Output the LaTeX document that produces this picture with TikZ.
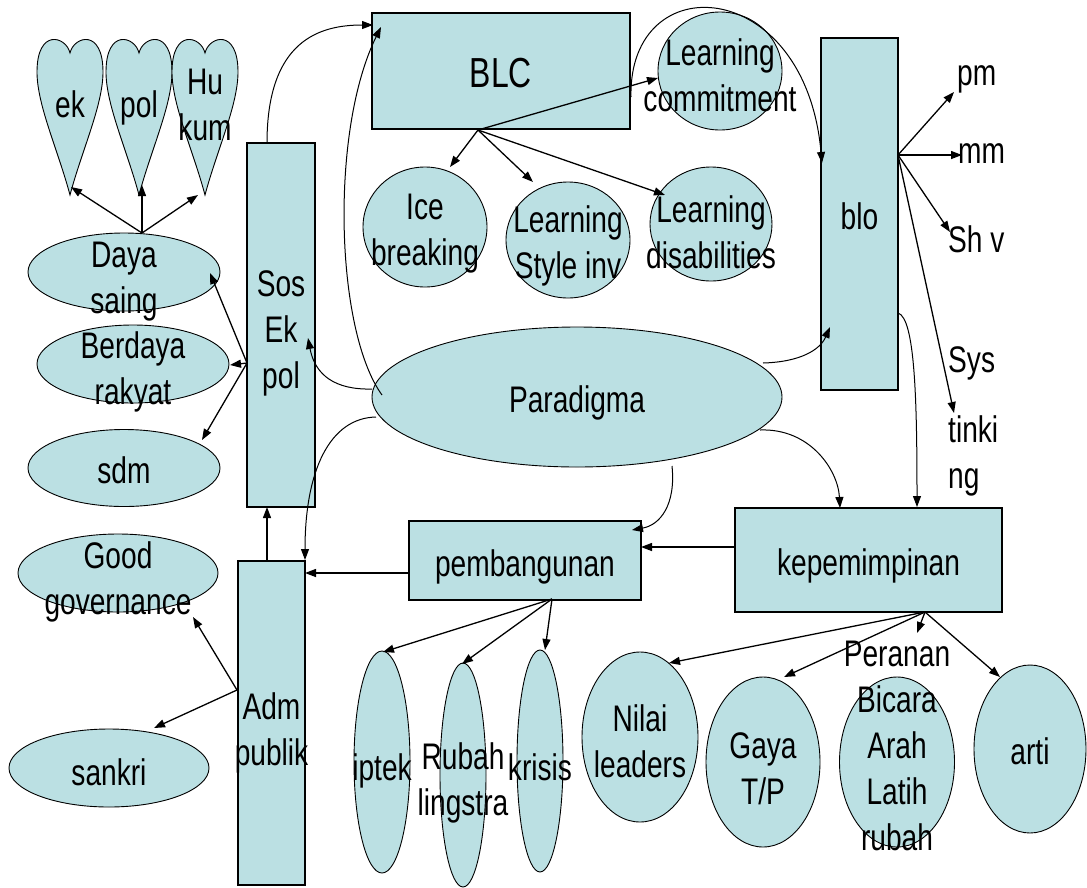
\documentclass[tikz,border=0pt]{standalone}
\usepackage{fontspec}
\setmainfont{Liberation Sans}[FakeStretch=0.76]
\usetikzlibrary{shapes.geometric,arrows.meta}
\definecolor{fillc}{RGB}{187,224,227}
\newcommand\zt[2][0pt]{\smash{\makebox[0pt]{\raisebox{\dimexpr#1-13pt\relax}{\begin{tabular}{@{}c@{}}#2\end{tabular}}}}}
\newcommand\heartat[3]{%
  \draw[heartsty] (#2,53) .. controls (#2-4,36) and (#2-33,28) .. (#2-33,72)
    .. controls (#2-33,105) and (#2-12,150) .. (#2,195)
    .. controls (#2+12,150) and (#2+33,105) .. (#2+33,72)
    .. controls (#2+33,28) and (#2+4,36) .. cycle;
  \node[txt] (#1) at (#2,102) {\zt{#3}};}
\begin{document}
\begin{tikzpicture}[x=1pt,y=-1pt,font=\fontsize{37}{46}\selectfont,
  box/.style={draw=black,line width=1.6pt,fill=fillc,rectangle,inner sep=0pt},
  oval/.style={draw=black,line width=0.9pt,fill=fillc,ellipse,inner sep=0pt},
  heartsty/.style={draw=black,line width=0.9pt,fill=fillc},
  txt/.style={inner sep=0pt},
  arr/.style={-{Triangle[length=11pt,width=8pt]},line width=1.3pt},
  carr/.style={-{Triangle[length=11pt,width=8pt]},line width=1pt}]
\useasboundingbox (0,0) rectangle (1087,887);

% hearts
\heartat{ek}{70}{ek}
\heartat{pol}{139}{pol}
\heartat{hk}{205}{Hu\\kum}

% left column
\node[oval,minimum width=192pt,minimum height=78pt] (ds) at (124,272) {\zt[-3pt]{Daya\\saing}};
\node[oval,minimum width=192pt,minimum height=78pt] (br) at (133,364) {\zt[-2pt]{Berdaya\\rakyat}};
\node[oval,minimum width=192pt,minimum height=77pt] (sdm) at (124,468) {\zt{sdm}};
\node[box,minimum width=68pt,minimum height=364pt] (sos) at (281,325) {\zt[-2pt]{Sos\\Ek\\pol}};
\node[box,minimum width=67pt,minimum height=324pt] (adm) at (271.5,723) {\zt[-4pt]{Adm\\publik}};
\node[oval,minimum width=200pt,minimum height=78pt] (gg) at (118,573) {\zt[-3pt]{Good\\governance}};
\node[oval,minimum width=200pt,minimum height=78pt] (sk) at (109,768) {\zt[-2pt]{sankri}};

% top
\node[box,minimum width=258pt,minimum height=116pt] (blc) at (501,71) {\zt[-1pt]{\fontsize{42}{46}\selectfont BLC}};
\node[oval,minimum width=124pt,minimum height=118pt] (lc) at (720,71) {\zt[-2pt]{Learning\\commitment}};
\node[oval,minimum width=124pt,minimum height=120pt] (ice) at (425,227) {\zt{Ice\\breaking}};
\node[oval,minimum width=124pt,minimum height=116pt] (lsi) at (568,240) {\zt{Learning\\Style inv}};
\node[oval,minimum width=122pt,minimum height=114pt] (ld) at (711,224) {\zt[-6pt]{Learning\\disabilities}};
\node[box,minimum width=77pt,minimum height=352pt] (blo) at (859.5,214) {\zt{blo}};

% right free texts
\node[txt,anchor=base west] (pm) at (957,85) {pm};
\node[txt,anchor=base west] (mm) at (958,163) {mm};
\node[txt,anchor=base west] (shv) at (948,252) {Sh v};
\node[txt,anchor=base west] (sys) at (948,372) {\begin{tabular}[t]{@{}l@{}}Sys\\[24pt]tinki\\ng\end{tabular}};

% centre
\node[oval,minimum width=410pt,minimum height=140pt] (par) at (577,397) {\zt{Paradigma}};
\node[box,minimum width=232pt,minimum height=79pt] (pb) at (525,560.5) {\zt{pembangunan}};
\node[box,minimum width=267pt,minimum height=104pt] (kp) at (868.5,560) {\zt{kepemimpinan}};

% bottom
\node[oval,minimum width=56pt,minimum height=222pt] (ip) at (382,762) {\zt[-3pt]{iptek}};
\node[oval,minimum width=46pt,minimum height=224pt] (rb) at (463,775) {\zt[-2pt]{Rubah\\lingstra}};
\node[oval,minimum width=46pt,minimum height=222pt] (kr) at (540,761) {\zt[-4pt]{krisis}};
\node[oval,minimum width=116pt,minimum height=170pt] (nl) at (640,737) {\zt[-2pt]{Nilai\\leaders}};
\node[oval,minimum width=114pt,minimum height=170pt] (gy) at (763,762) {\zt[-4pt]{Gaya\\T/P}};
\node[oval,minimum width=115pt,minimum height=170pt] (pr) at (897,762) {\zt[19pt]{Peranan\\Bicara\\Arah\\Latih\\rubah}};
\node[oval,minimum width=112pt,minimum height=168pt] (ar) at (1030,749) {\zt{arti}};

% anchor coordinates
\coordinate (dsT) at (142,233);
\coordinate (ekT) at (71,187);
\coordinate (polT) at (142,185);
\coordinate (hkT) at (198,195);
\coordinate (sosL) at (247,363);
\coordinate (dsR) at (210,273);
\coordinate (brR) at (230,365);
\coordinate (sdmT) at (202,440);
\coordinate (admL) at (237,690);
\coordinate (ggB) at (193,617);
\coordinate (skT) at (154,728);
\coordinate (pbB) at (552,599);
\coordinate (ipT) at (383,652);
\coordinate (rbT) at (462,664);
\coordinate (krT) at (545,650);
\coordinate (kpB) at (925,612);
\coordinate (nlT) at (669,663);
\coordinate (gyT) at (784,677);
\coordinate (prT) at (917,633);
\coordinate (arT) at (1000,677);
\coordinate (blcB) at (478,130);
\coordinate (iceT) at (450,167);
\coordinate (lsiT) at (533,182);
\coordinate (ldT) at (665,195);
\coordinate (lcL) at (658,78);
\coordinate (bloR) at (898,155);
\coordinate (pmA) at (954,92);
\coordinate (mmA) at (962,155);
\coordinate (shvA) at (950,232);
\coordinate (sysA) at (954,413);
\coordinate (kpL) at (735,547);
\coordinate (pbR) at (641,547);
\coordinate (pbL) at (409,573);
\coordinate (admR) at (305,573);
\coordinate (admT) at (267,561);
\coordinate (sosB) at (267,507);

% straight arrows
\draw[arr] (dsT) -- (ekT);
\draw[arr] (dsT) -- (polT);
\draw[arr] (dsT) -- (hkT);
\draw[arr] (sosL) -- (dsR);
\draw[arr] (sosL) -- (brR);
\draw[arr] (sosL) -- (sdmT);
\draw[arr] (admL) -- (ggB);
\draw[arr] (admL) -- (skT);
\draw[arr] (pbB) -- (ipT);
\draw[arr] (pbB) -- (rbT);
\draw[arr] (pbB) -- (krT);
\draw[arr] (kpB) -- (nlT);
\draw[arr] (kpB) -- (gyT);
\draw[arr] (kpB) -- (prT);
\draw[arr] (kpB) -- (arT);
\draw[arr] (blcB) -- (iceT);
\draw[arr] (blcB) -- (lsiT);
\draw[arr] (blcB) -- (ldT);
\draw[arr] (blcB) -- (lcL);
\draw[arr] (bloR) -- (pmA);
\draw[arr] (bloR) -- (mmA);
\draw[arr] (bloR) -- (shvA);
\draw[arr] (bloR) -- (sysA);
\draw[arr] (kpL) -- (pbR);
\draw[arr] (pbL) -- (admR);
\draw[arr] (admT) -- (sosB);

% curved connectors
\coordinate (sosT) at (267,143);
\coordinate (blcL1) at (373,25);
\coordinate (blcL2) at (381,27);
\coordinate (parA) at (382,395);
\coordinate (parB) at (372,389);
\coordinate (sosR) at (308,338);
\coordinate (parC) at (376,417);
\coordinate (admTR) at (305,560);
\coordinate (blcR) at (631,97);
\coordinate (bloL) at (822,163);
\coordinate (parD) at (763,363);
\coordinate (bloL2) at (830,327);
\coordinate (parE) at (760,430);
\coordinate (kpT1) at (840,508);
\coordinate (bloR2) at (898,313);
\coordinate (kpT2) at (917,507);
\coordinate (parF) at (672,466);
\coordinate (pbTR) at (632,530);

\draw[carr] (sosT) .. controls (267,40) and (320,25) .. (blcL1);
\draw[carr] (parA) .. controls (335,330) and (330,130) .. (blcL2);
\draw[carr] (parB) .. controls (335,390) and (315,375) .. (sosR);
\draw[carr] (parC) .. controls (330,418) and (305,470) .. (admTR);
\draw[carr] (blcR) .. controls (628,-35) and (805,-25) .. (bloL);
\draw[carr] (parD) .. controls (800,362) and (820,350) .. (bloL2);
\draw[carr] (parE) .. controls (810,428) and (838,470) .. (kpT1);
\draw[carr] (bloR2) .. controls (915,318) and (917,400) .. (kpT2);
\draw[carr] (parF) .. controls (676,505) and (660,525) .. (pbTR);
\end{tikzpicture}
\end{document}
